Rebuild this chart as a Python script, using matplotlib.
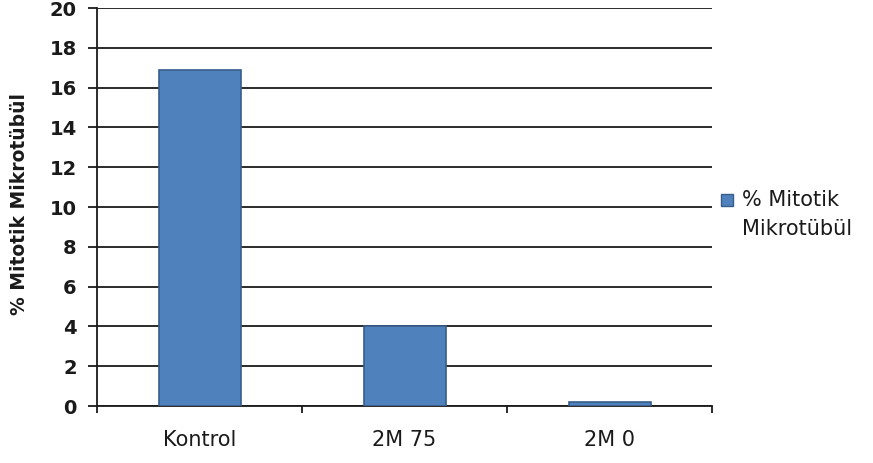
import matplotlib
matplotlib.use("Agg")
import matplotlib.pyplot as plt
from matplotlib.patches import Rectangle

categories = ["Kontrol", "2M 75", "2M 0"]
values = [16.9, 4.0, 0.2]
series_name = ["% Mitotik", "Mikrotübül"]
y_label = "% Mitotik Mikrotübül"
y_ticks = list(range(0, 21, 2))

ink = "#1a1a1a"
fig = plt.figure(figsize=(8.73, 4.63), dpi=100)
ax = fig.add_axes([97 / 873, 1 - 406 / 463, (712 - 97) / 873, (406 - 8) / 463])

x = list(range(len(categories)))
ax.bar(x, values, width=0.4, color="#4F81BD", edgecolor="#385D8A", linewidth=1.2, zorder=3)

ax.set_xlim(-0.5, len(categories) - 0.5)
ax.set_ylim(0, 20)
ax.set_yticks(y_ticks)
ax.set_yticklabels([str(t) for t in y_ticks], fontsize=14, fontweight="bold", color=ink)
ax.yaxis.grid(True, color=ink, linewidth=1.3, zorder=0)
ax.set_axisbelow(True)

# category labels sit between boundary ticks
ax.set_xticks([i + 0.5 for i in range(-1, len(categories))])
ax.set_xticklabels([])
ax.set_xticks(x, minor=True)
ax.set_xticklabels(categories, minor=True, fontsize=15, color=ink)
ax.tick_params(axis="x", which="minor", length=0, pad=17)
ax.tick_params(axis="x", which="major", length=5, width=1.3, color=ink, direction="out")
ax.tick_params(axis="y", length=6.5, width=1.3, color=ink, pad=8)

for side in ["top", "right"]:
    ax.spines[side].set_visible(False)
for side in ["left", "bottom"]:
    ax.spines[side].set_color(ink)
    ax.spines[side].set_linewidth(1.3)

fig.text(20 / 873, 1 - 204 / 463, y_label, rotation=90, ha="center", va="center",
         fontsize=13.5, fontweight="bold", color=ink)

# legend
fig.patches.append(Rectangle((721 / 873, 1 - 206 / 463), 12 / 873, 12 / 463,
                             transform=fig.transFigure, facecolor="#4F81BD",
                             edgecolor="#385D8A", linewidth=1))
fig.text(742 / 873, 1 - 200 / 463, series_name[0], ha="left", va="center",
         fontsize=15, color=ink)
fig.text(742 / 873, 1 - 229 / 463, series_name[1], ha="left", va="center",
         fontsize=15, color=ink)

fig.savefig("out.png", dpi=100)
